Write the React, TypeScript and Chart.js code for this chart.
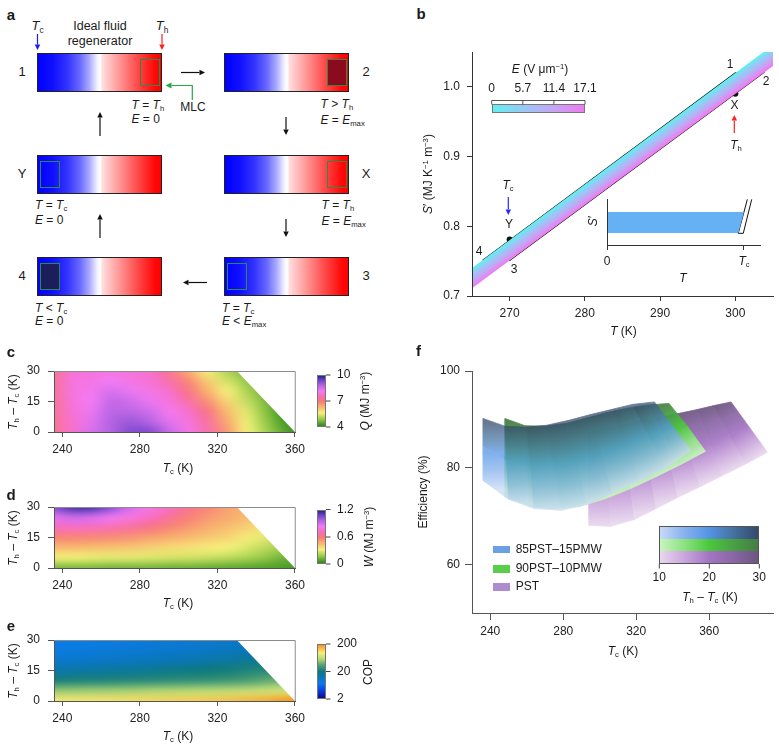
import React, { useEffect, useRef } from 'react';
import { Chart, registerables } from 'chart.js';

Chart.register(...registerables);

const FONT = "'Liberation Sans', Arial, Helvetica, sans-serif";
Chart.defaults.font.family = FONT;
Chart.defaults.color = '#222';

// ---------------- Panel b data ----------------
const B_T_TICKS = [270, 280, 290, 300];
const B_S_TICKS = [0.7, 0.8, 0.9, 1.0];
const BAND_T = [265, 305];
const BAND_TOP_S = [0.740, 1.060];
const BAND_BOTTOM_S = [0.711, 1.030];
const CYCLE_T = [266.4, 300.0, 303.7, 270.0, 266.4];
const CYCLE_S = [0.751, 1.020, 1.020, 0.751, 0.751];
const DASH_HOT_T = [300, 300];
const DASH_HOT_S = [0.990, 1.020];
const DASH_COLD_T = [270, 270];
const DASH_COLD_S = [0.751, 0.781];
const STATE_T = [300, 270];
const STATE_S = [0.990, 0.781];
const E_FIELD_TICKS = [0, 5.7, 11.4, 17.1];
const INSET_T_TICKS = [0, 1];
const INSET_BAR_T = [0, 0.966, 1.007, 0, 0];
const INSET_BAR_S = [0.26, 0.26, 0.717, 0.717, 0.26];
const INSET_SLAB_T = [1.032, 0.965, 1.002, 1.064];
const INSET_SLAB_S = [0.993, 0.254, 0.254, 0.993];

// ---------------- Panels c, d, e data ----------------
const HM_TC = [235, 245, 255, 265, 275, 285, 295, 305, 315, 325, 335, 345, 355, 365];
const HM_DT = [0, 5, 10, 15, 20, 25, 30];
const HM_TC_TICKS = [240, 280, 320, 360];
const HM_DT_TICKS = [0, 15, 30];
const TH_MAX = 360;
const Q_TICKS = [4, 7, 10];
const W_TICKS = [0, 0.6, 1.2];
const COP_TICKS = [2, 20, 200];
// rows: dT = 0,5,...,30 ; columns: Tc = 235..365
const Q_GRID = [
  [7.2, 7.7, 8.5, 8.9, 9.3, 9.3, 8.7, 8.0, 7.4, 6.6, 5.6, 4.95, 4.35, 4.0],
  [7.2, 7.75, 8.4, 8.9, 9.1, 8.9, 8.4, 7.9, 7.3, 6.4, 5.5, 4.8, 4.2, 4.0],
  [7.25, 7.8, 8.3, 8.8, 8.8, 8.6, 8.1, 7.7, 7.1, 6.2, 5.4, 4.7, 4.1, 4.0],
  [7.25, 7.85, 8.2, 8.7, 8.6, 8.3, 7.9, 7.4, 6.7, 5.9, 5.2, 4.6, 4.1, 4.0],
  [7.25, 7.9, 8.1, 8.5, 8.3, 8.0, 7.7, 7.1, 6.3, 5.6, 5.0, 4.5, 4.1, 4.0],
  [7.2, 7.9, 8.0, 8.2, 8.0, 7.8, 7.4, 6.8, 6.0, 5.3, 4.8, 4.4, 4.1, 4.0],
  [7.2, 7.8, 7.9, 8.0, 7.9, 7.7, 7.2, 6.4, 5.6, 5.0, 4.6, 4.3, 4.1, 4.0],
];
const W_GRID = [
  [0.12, 0.12, 0.12, 0.11, 0.11, 0.11, 0.10, 0.10, 0.09, 0.08, 0.07, 0.06, 0.05, 0.04],
  [0.30, 0.30, 0.29, 0.28, 0.28, 0.27, 0.26, 0.25, 0.24, 0.22, 0.19, 0.15, 0.10, 0.08],
  [0.44, 0.44, 0.43, 0.42, 0.41, 0.39, 0.37, 0.35, 0.33, 0.31, 0.27, 0.22, 0.17, 0.12],
  [0.57, 0.57, 0.56, 0.55, 0.53, 0.50, 0.47, 0.44, 0.41, 0.38, 0.33, 0.28, 0.22, 0.16],
  [0.70, 0.72, 0.71, 0.69, 0.66, 0.62, 0.57, 0.52, 0.47, 0.43, 0.39, 0.34, 0.28, 0.22],
  [0.88, 0.93, 0.91, 0.86, 0.79, 0.72, 0.65, 0.58, 0.52, 0.48, 0.44, 0.40, 0.34, 0.28],
  [1.05, 1.15, 1.15, 1.05, 0.90, 0.80, 0.72, 0.64, 0.57, 0.50, 0.46, 0.42, 0.38, 0.32],
];
const COP_GRID = [
  [105, 108, 110, 113, 116, 120, 124, 128, 133, 140, 150, 165, 190, 200],
  [50, 51, 52, 53, 54, 56, 57, 59, 61, 63, 66, 70, 75, 80],
  [22, 23, 23.5, 24, 25, 26, 27, 28, 29, 31, 34, 38, 42, 46],
  [14, 14.5, 15, 15.5, 16, 17, 18, 19, 20, 21, 23, 25, 27, 29],
  [10, 10.3, 10.7, 11, 11.5, 12, 12.7, 13.4, 14.2, 15, 16.2, 17.5, 19, 20],
  [8.2, 8.4, 8.7, 9, 9.3, 9.7, 10.1, 10.6, 11.1, 11.7, 12.4, 13.2, 14, 15],
  [7.2, 7.4, 7.6, 7.8, 8.1, 8.4, 8.8, 9.2, 9.6, 10, 10.5, 11, 11.6, 12.2],
];

// ---------------- Panel f data ----------------
const F_TC_TICKS = [240, 280, 320, 360];
const F_EFF_TICKS = [60, 80, 100];
const F_DT_ROWS = [10, 20, 30];
const F_DT_TICKS = [10, 20, 30];
const BLUE_TC_10 = [236, 250, 264, 279, 293, 307, 322, 336, 350];
const BLUE_EFF_10 = [77.4, 73.5, 71.6, 71.2, 72.4, 74.9, 77.3, 80.0, 83.6];
const BLUE_TC_20 = [236, 249, 262, 275, 288, 301, 314, 327, 340];
const BLUE_EFF_20 = [84.5, 81.6, 80.6, 80.5, 81.3, 82.9, 84.8, 86.7, 88.6];
const BLUE_TC_30 = [236, 248, 260, 271, 283, 295, 307, 318, 330];
const BLUE_EFF_30 = [90.2, 88.6, 88.4, 88.8, 89.8, 91.0, 92.1, 93.1, 93.6];
const GREEN_TC_10 = [248, 262, 275, 289, 303, 317, 330, 344, 358];
const GREEN_EFF_10 = [74.0, 72.0, 71.5, 72.0, 73.6, 75.7, 78.0, 80.6, 83.4];
const GREEN_TC_20 = [248, 260, 273, 285, 298, 310, 323, 335, 348];
const GREEN_EFF_20 = [82.6, 80.8, 80.5, 81.0, 82.3, 83.8, 85.5, 87.1, 88.6];
const GREEN_TC_30 = [248, 259, 270, 282, 293, 304, 315, 327, 338];
const GREEN_EFF_30 = [90.2, 88.7, 88.6, 89.2, 90.3, 91.4, 92.3, 93.0, 93.3];
const PURPLE_TC_10 = [294, 306, 319, 331, 343, 355, 368, 380, 392];
const PURPLE_EFF_10 = [68.1, 67.9, 69.3, 71.6, 73.9, 76.1, 78.5, 80.8, 83.2];
const PURPLE_TC_20 = [294, 305, 316, 327, 338, 349, 360, 371, 382];
const PURPLE_EFF_20 = [78.0, 78.2, 79.2, 80.6, 82.1, 83.6, 85.2, 86.8, 88.4];
const PURPLE_TC_30 = [294, 304, 314, 323, 333, 343, 353, 362, 372];
const PURPLE_EFF_30 = [87.4, 88.2, 89.0, 89.7, 90.4, 91.2, 92.0, 92.8, 93.6];
const F_NAMES = ['85PST–15PMW', '90PST–10PMW', 'PST'];

// ---------------- Styles ----------------
// shade at dT = 10, 15, 20, 25, 30
const BLUE_SHADES = ['#c8daf6', '#86b2ee', '#5494e4', '#44729e', '#34496c'];
const GREEN_SHADES = ['#c8f4c0', '#8ce280', '#4cc83c', '#48a044', '#467c44'];
const PURPLE_SHADES = ['#e8d8ee', '#caa6dc', '#a474c4', '#8a66a6', '#6c5480'];
const LEGEND_COLORS = ['#6b9fe6', '#5acd4c', '#ad8ccf'];
const HEAT_STOPS = [0, 0.14, 0.26, 0.38, 0.5, 0.6, 0.7, 0.82, 0.92, 1];
const HEAT_COLORS = ['#2a8a18', '#9ccc4c', '#f4f07a', '#f8b46e', '#f8787a', '#f86ec4', '#f27af4', '#b262e2', '#6c40c8', '#26268a'];
const COP_STOPS = [0, 0.14, 0.28, 0.4, 0.5, 0.62, 0.73, 0.85, 1];
const COP_COLORS = ['#0c0c82', '#0a3ce6', '#0a7cea', '#0a76b8', '#0f7a7c', '#4fa074', '#b4d672', '#f4f07c', '#f8921a'];
const E_STOPS = [0, 0.35, 0.68, 1];
const E_COLORS = ['#5ff0f0', '#9cc6f6', '#c6a4f4', '#f07af0'];
const REGEN_GRADIENT =
  'linear-gradient(to right, #0000ff 0%, #1010ff 12%, #3434ff 24%, #6868ff 34%, #acacff 42%, #f0f0ff 48%, #ffffff 50.5%, #ffdcdc 52.5%, #ffb0b0 61%, #ff7878 72%, #ff4040 83%, #ff0808 95%, #ff0000 100%)';

type RGB = [number, number, number];
const hexRgb = (h: string): RGB => [parseInt(h.slice(1, 3), 16), parseInt(h.slice(3, 5), 16), parseInt(h.slice(5, 7), 16)];
function makeCmap(stops: number[], colors: string[]) {
  const rgb = colors.map(hexRgb);
  return (t: number): RGB => {
    const u = Math.min(1, Math.max(0, t));
    let i = 0;
    while (i < stops.length - 2 && u > stops[i + 1]) i++;
    const f = (u - stops[i]) / (stops[i + 1] - stops[i]);
    return [0, 1, 2].map((k) => Math.round(rgb[i][k] + (rgb[i + 1][k] - rgb[i][k]) * f)) as RGB;
  };
}
const cssGrad = (dir: string, stops: number[], colors: string[]) =>
  `linear-gradient(${dir}, ${colors.map((c, i) => `${c} ${(stops[i] * 100).toFixed(1)}%`).join(', ')})`;
const heatCmap = makeCmap(HEAT_STOPS, HEAT_COLORS);
const copCmap = makeCmap(COP_STOPS, COP_COLORS);
const normQ = (v: number) => (v - Q_TICKS[0]) / (Q_TICKS[2] - Q_TICKS[0]);
const normW = (v: number) => (v - W_TICKS[0]) / (W_TICKS[2] - W_TICKS[0]);
const normCOP = (v: number) => Math.log10(v / COP_TICKS[0]) / Math.log10(COP_TICKS[2] / COP_TICKS[0]);

const pts = (xs: number[], ys: number[]) => xs.map((x, i) => ({ x, y: ys[i] }));

function linAxis(min: number, max: number, vals: number[], o: any = {}) {
  return {
    type: 'linear',
    min,
    max,
    afterBuildTicks: (s: any) => {
      s.ticks = vals.map((v) => ({ value: v }));
    },
    afterFit: (s: any) => {
      if (o.horizontal) s.height = o.size;
      else s.width = o.size;
    },
    ticks: {
      display: o.labels !== false,
      color: '#222',
      font: { family: FONT, size: 12 },
      padding: o.pad ?? 4,
      maxRotation: 0,
      autoSkip: false,
      callback: o.fmt ?? ((v: number) => String(v)),
    },
    grid: { display: true, drawOnChartArea: false, drawTicks: true, tickLength: o.tickLen ?? 5, color: o.color ?? '#333', lineWidth: 1 },
    border: { display: true, color: o.color ?? '#333', width: 1, z: 1 },
  };
}

const baseOptions = (padding: any, scales: any) => ({
  responsive: false,
  animation: false,
  events: [],
  layout: { padding },
  plugins: { legend: { display: false }, tooltip: { enabled: false } },
  scales,
});

// ---------------- Plugins ----------------
function heatmapPlugin(grid: number[][], norm: (v: number) => number, cmap: (t: number) => RGB) {
  return {
    id: 'heatmap',
    beforeDatasetsDraw(chart: any) {
      const { ctx, scales } = chart;
      const x = scales.x, y = scales.y;
      const nC = HM_TC.length, nR = HM_DT.length;
      const off = document.createElement('canvas');
      off.width = nC;
      off.height = nR;
      const o = off.getContext('2d')!;
      const img = o.createImageData(nC, nR);
      for (let r = 0; r < nR; r++)
        for (let c = 0; c < nC; c++) {
          const [R, G, B] = cmap(norm(grid[r][c]));
          const i = ((nR - 1 - r) * nC + c) * 4;
          img.data[i] = R;
          img.data[i + 1] = G;
          img.data[i + 2] = B;
          img.data[i + 3] = 255;
        }
      o.putImageData(img, 0, 0);
      const dx = HM_TC[1] - HM_TC[0], dy = HM_DT[1] - HM_DT[0];
      const x0 = x.getPixelForValue(HM_TC[0] - dx / 2), x1 = x.getPixelForValue(HM_TC[nC - 1] + dx / 2);
      const y0 = y.getPixelForValue(HM_DT[nR - 1] + dy / 2), y1 = y.getPixelForValue(HM_DT[0] - dy / 2);
      const dtMax = HM_DT[nR - 1];
      ctx.save();
      ctx.beginPath();
      ctx.moveTo(x.left, y.getPixelForValue(0));
      ctx.lineTo(x.left, y.getPixelForValue(dtMax));
      ctx.lineTo(x.getPixelForValue(TH_MAX - dtMax), y.getPixelForValue(dtMax));
      ctx.lineTo(x.getPixelForValue(TH_MAX), y.getPixelForValue(0));
      ctx.closePath();
      ctx.clip();
      ctx.imageSmoothingEnabled = true;
      (ctx as any).imageSmoothingQuality = 'high';
      ctx.drawImage(off, x0, y0, x1 - x0, y1 - y0);
      ctx.restore();
    },
  };
}

const boxPlugin = {
  id: 'box',
  afterDraw(chart: any) {
    const { ctx, chartArea: a } = chart;
    ctx.save();
    ctx.strokeStyle = '#8c8c8c';
    ctx.lineWidth = 1;
    ctx.beginPath();
    ctx.moveTo(a.left, a.top + 0.5);
    ctx.lineTo(a.right - 0.5, a.top + 0.5);
    ctx.lineTo(a.right - 0.5, a.bottom);
    ctx.stroke();
    ctx.restore();
  },
};

const MATERIALS = [
  { tc: [PURPLE_TC_10, PURPLE_TC_20, PURPLE_TC_30], eff: [PURPLE_EFF_10, PURPLE_EFF_20, PURPLE_EFF_30], shades: PURPLE_SHADES, alpha: 0.92 },
  { tc: [GREEN_TC_10, GREEN_TC_20, GREEN_TC_30], eff: [GREEN_EFF_10, GREEN_EFF_20, GREEN_EFF_30], shades: GREEN_SHADES, alpha: 0.93 },
  { tc: [BLUE_TC_10, BLUE_TC_20, BLUE_TC_30], eff: [BLUE_EFF_10, BLUE_EFF_20, BLUE_EFF_30], shades: BLUE_SHADES, alpha: 0.74 },
];

const surfacePlugin = {
  id: 'surfaces',
  beforeDatasetsDraw(chart: any) {
    const { ctx, scales } = chart;
    const x = scales.x, y = scales.y;
    const dpr = chart.currentDevicePixelRatio || 1;
    for (const m of MATERIALS) {
      const off = document.createElement('canvas');
      off.width = chart.canvas.width;
      off.height = chart.canvas.height;
      const o = off.getContext('2d')!;
      o.setTransform(dpr, 0, 0, dpr, 0, 0);
      const P = (r: number, k: number) => [x.getPixelForValue(m.tc[r][k]), y.getPixelForValue(m.eff[r][k])];
      for (let r = 0; r < F_DT_ROWS.length - 1; r++) {
        for (let k = 0; k < m.tc[r].length - 1; k++) {
          const a = P(r, k), b = P(r, k + 1), c = P(r + 1, k + 1), d = P(r + 1, k);
          const g = o.createLinearGradient((a[0] + b[0]) / 2, (a[1] + b[1]) / 2, (c[0] + d[0]) / 2, (c[1] + d[1]) / 2);
          g.addColorStop(0, m.shades[2 * r]);
          g.addColorStop(0.5, m.shades[2 * r + 1]);
          g.addColorStop(1, m.shades[2 * r + 2]);
          o.fillStyle = g;
          o.strokeStyle = g;
          o.lineWidth = 0.8;
          o.beginPath();
          o.moveTo(a[0], a[1]);
          o.lineTo(b[0], b[1]);
          o.lineTo(c[0], c[1]);
          o.lineTo(d[0], d[1]);
          o.closePath();
          o.fill();
          o.stroke();
        }
      }
      ctx.save();
      ctx.setTransform(1, 0, 0, 1, 0, 0);
      ctx.globalAlpha = m.alpha;
      ctx.drawImage(off, 0, 0);
      ctx.restore();
    }
  },
};

function bandFill(context: any) {
  const chart = context.chart;
  const x = chart.scales?.x, y = chart.scales?.y;
  if (!chart.chartArea || !x || !y) return '#a8c4f4';
  const p0 = [x.getPixelForValue(BAND_T[0]), y.getPixelForValue(BAND_TOP_S[0])];
  const p1 = [x.getPixelForValue(BAND_T[1]), y.getPixelForValue(BAND_TOP_S[1])];
  const q0 = [x.getPixelForValue(BAND_T[0]), y.getPixelForValue(BAND_BOTTOM_S[0])];
  let nx = -(p1[1] - p0[1]), ny = p1[0] - p0[0];
  const L = Math.hypot(nx, ny);
  nx /= L;
  ny /= L;
  const d = (q0[0] - p0[0]) * nx + (q0[1] - p0[1]) * ny;
  const g = chart.ctx.createLinearGradient(p0[0], p0[1], p0[0] + nx * d, p0[1] + ny * d);
  E_STOPS.forEach((s, i) => g.addColorStop(s, E_COLORS[i]));
  return g;
}

// ---------------- Chart configs ----------------
const bConfig = () => ({
  type: 'line',
  data: {
    datasets: [
      { data: pts(BAND_T, BAND_TOP_S), borderWidth: 0, borderColor: 'rgba(0,0,0,0)', pointRadius: 0, fill: false },
      { data: pts(BAND_T, BAND_BOTTOM_S), borderWidth: 0, borderColor: 'rgba(0,0,0,0)', pointRadius: 0, fill: '-1', backgroundColor: bandFill },
      { data: pts(CYCLE_T, CYCLE_S), borderColor: '#111', borderWidth: 1.3, pointRadius: 0, fill: false },
      { data: pts(DASH_HOT_T, DASH_HOT_S), borderColor: '#222', borderWidth: 1.2, borderDash: [3, 2], pointRadius: 0, fill: false },
      { data: pts(DASH_COLD_T, DASH_COLD_S), borderColor: '#222', borderWidth: 1.2, borderDash: [3, 2], pointRadius: 0, fill: false },
      { data: pts(STATE_T, STATE_S), showLine: false, pointRadius: 3, pointBackgroundColor: '#111', pointBorderWidth: 0 },
    ],
  },
  options: baseOptions(
    { left: 0, top: 22, right: 6, bottom: 0 },
    {
      x: linAxis(265, 305, B_T_TICKS, { horizontal: true, size: 44, pad: 5 }),
      y: linAxis(0.7, 1.05, B_S_TICKS, { size: 72, pad: 7, fmt: (v: number) => v.toFixed(1) }),
    }
  ),
});

const insetConfig = () => ({
  type: 'scatter',
  data: {
    datasets: [
      { data: pts(INSET_BAR_T, INSET_BAR_S), showLine: true, borderWidth: 0, borderColor: 'rgba(0,0,0,0)', backgroundColor: '#66b0f4', fill: 'shape', pointRadius: 0 },
      { data: pts(INSET_SLAB_T, INSET_SLAB_S), showLine: true, borderWidth: 1, borderColor: '#111', fill: false, pointRadius: 0 },
    ],
  },
  options: baseOptions(
    { left: 0, top: 14, right: 15, bottom: 0 },
    {
      x: linAxis(0, 1.125, INSET_T_TICKS, { horizontal: true, size: 25, pad: 4, fmt: (v: number) => (v === 0 ? '0' : '') }),
      y: linAxis(0, 1, [], { size: 17, labels: false }),
    }
  ),
});

const heatConfig = (grid: number[][], norm: (v: number) => number, cmap: (t: number) => RGB) => ({
  type: 'scatter',
  data: { datasets: [] },
  options: baseOptions(
    { left: 0, top: 16, right: 8, bottom: 0 },
    {
      x: linAxis(235.7, 360.4, HM_TC_TICKS, { horizontal: true, size: 30, pad: 5, tickLen: 5, color: '#555' }),
      y: linAxis(0, 30, HM_DT_TICKS, { size: 54, pad: 8, tickLen: 6, color: '#555' }),
    }
  ),
  plugins: [heatmapPlugin(grid, norm, cmap), boxPlugin],
});

const fConfig = () => ({
  type: 'scatter',
  data: { datasets: [] },
  options: baseOptions(
    { left: 0, top: 16, right: 6, bottom: 0 },
    {
      x: linAxis(230, 395, F_TC_TICKS, { horizontal: true, size: 57, pad: 4, tickLen: 7, color: '#555' }),
      y: linAxis(50, 100, F_EFF_TICKS, { size: 72, pad: 5, tickLen: 7, color: '#555' }),
    }
  ),
  plugins: [surfacePlugin],
});

// ---------------- Components ----------------
function ChartCanvas({ left, top, width, height, make }: any) {
  const ref = useRef<HTMLCanvasElement>(null);
  useEffect(() => {
    const chart = new Chart(ref.current as any, make());
    return () => chart.destroy();
  }, []);
  return <canvas ref={ref} width={width} height={height} style={{ position: 'absolute', left, top, width, height }} />;
}

const Sub = ({ children }: any) => <span style={{ fontSize: '0.64em', position: 'relative', top: '0.32em' }}>{children}</span>;
const Sup = ({ children }: any) => <span style={{ fontSize: '0.64em', position: 'relative', top: '-0.5em' }}>{children}</span>;
const Ts = ({ s }: any) => (
  <>
    <i>T</i>
    <Sub>{s}</Sub>
  </>
);

function Lbl({ x, y, a = 'c', rot = false, size = 12, bold = false, children }: any) {
  const tx = a === 'l' ? '0' : a === 'r' ? '-100%' : '-50%';
  return (
    <div
      style={{
        position: 'absolute',
        left: x,
        top: y,
        transform: `translate(${tx}, -50%)${rot ? ' rotate(-90deg)' : ''}`,
        fontSize: size,
        fontWeight: bold ? 700 : 400,
        lineHeight: 1.15,
        whiteSpace: 'nowrap',
        color: '#1a1a1a',
      }}
    >
      {children}
    </div>
  );
}

function Arrow({ x1, y1, x2, y2, color = '#111', w = 1.2, head = 5.5 }: any) {
  const dx = x2 - x1, dy = y2 - y1, L = Math.hypot(dx, dy);
  const ux = dx / L, uy = dy / L;
  const bx = x2 - ux * head, by = y2 - uy * head;
  const px = -uy * head * 0.5, py = ux * head * 0.5;
  return (
    <g>
      <line x1={x1} y1={y1} x2={bx} y2={by} stroke={color} strokeWidth={w} />
      <polygon points={`${x2},${y2} ${bx + px},${by + py} ${bx - px},${by - py}`} fill={color} />
    </g>
  );
}

function Regen({ x, y, box, fill }: any) {
  return (
    <>
      <div style={{ position: 'absolute', left: x, top: y, width: 125, height: 39, background: REGEN_GRADIENT, border: '1px solid #222', boxSizing: 'border-box' }} />
      <div style={{ position: 'absolute', left: box, top: y + 6, width: 20, height: 27, background: fill || 'transparent', border: '1.5px solid #2a8a46', boxSizing: 'border-box' }} />
    </>
  );
}

function VBar({ left, top, width, height, grad }: any) {
  return <div style={{ position: 'absolute', left, top, width, height, background: grad, border: '1px solid #777', boxSizing: 'border-box' }} />;
}

function PanelA() {
  return (
    <>
      <Lbl x={11} y={15} size={15} bold>a</Lbl>
      <Lbl x={37.5} y={26} size={13}><Ts s="c" /></Lbl>
      <Lbl x={162} y={26} size={13}><Ts s="h" /></Lbl>
      <Lbl x={100} y={26} size={12.5}>Ideal fluid</Lbl>
      <Lbl x={100} y={41} size={12.5}>regenerator</Lbl>
      <Regen x={37} y={53} box={140} />
      <Regen x={224} y={53} box={327} fill="#8a0a1e" />
      <Regen x={37} y={155} box={40} />
      <Regen x={224} y={155} box={327} />
      <Regen x={37} y={257} box={40} fill="#1b1e5a" />
      <Regen x={224} y={257} box={227} />
      <Lbl x={22} y={72} size={13}>1</Lbl>
      <Lbl x={366} y={72} size={13}>2</Lbl>
      <Lbl x={22} y={174} size={13}>Y</Lbl>
      <Lbl x={366} y={174} size={13}>X</Lbl>
      <Lbl x={22} y={276} size={13}>4</Lbl>
      <Lbl x={366} y={276} size={13}>3</Lbl>
      <Lbl x={131.5} y={106} a="l"><i>T</i> = <Ts s="h" /></Lbl>
      <Lbl x={131.5} y={120} a="l"><i>E</i> = 0</Lbl>
      <Lbl x={193} y={108}>MLC</Lbl>
      <Lbl x={320.5} y={105} a="l"><i>T</i> &gt; <Ts s="h" /></Lbl>
      <Lbl x={320.5} y={121} a="l"><i>E</i> = <i>E</i><Sub>max</Sub></Lbl>
      <Lbl x={35} y={206} a="l"><i>T</i> = <Ts s="c" /></Lbl>
      <Lbl x={35} y={221} a="l"><i>E</i> = 0</Lbl>
      <Lbl x={321.5} y={206} a="l"><i>T</i> = <Ts s="h" /></Lbl>
      <Lbl x={321.5} y={222} a="l"><i>E</i> = <i>E</i><Sub>max</Sub></Lbl>
      <Lbl x={35} y={309} a="l"><i>T</i> &lt; <Ts s="c" /></Lbl>
      <Lbl x={35} y={322} a="l"><i>E</i> = 0</Lbl>
      <Lbl x={222} y={309} a="l"><i>T</i> = <Ts s="c" /></Lbl>
      <Lbl x={222} y={322} a="l"><i>E</i> &lt; <i>E</i><Sub>max</Sub></Lbl>
    </>
  );
}

function PanelBText() {
  const eX = (v: number) => 491.7 + (v / E_FIELD_TICKS[3]) * 93.3;
  return (
    <>
      <Lbl x={421} y={14} size={15} bold>b</Lbl>
      <Lbl x={428.5} y={173.5} rot><i>S</i>′ (MJ K<Sup>−1</Sup> m<Sup>−3</Sup>)</Lbl>
      <Lbl x={623.5} y={332}><i>T</i> (K)</Lbl>
      <Lbl x={540} y={70}><i>E</i> (V μm<Sup>−1</Sup>)</Lbl>
      {E_FIELD_TICKS.map((v) => (
        <Lbl key={v} x={eX(v)} y={89}>{String(v)}</Lbl>
      ))}
      <VBar left={491.7} top={104.3} width={93.3} height={9} grad={cssGrad('to right', E_STOPS, E_COLORS)} />
      <Lbl x={730} y={65}>1</Lbl>
      <Lbl x={766} y={81.5}>2</Lbl>
      <Lbl x={734.5} y={106}>X</Lbl>
      <Lbl x={736} y={146}><Ts s="h" /></Lbl>
      <Lbl x={508} y={186}><Ts s="c" /></Lbl>
      <Lbl x={509} y={225}>Y</Lbl>
      <Lbl x={479} y={252}>4</Lbl>
      <Lbl x={514} y={269.5}>3</Lbl>
      <Lbl x={594} y={221} rot><i>S</i>′</Lbl>
      <Lbl x={744} y={262}><Ts s="c" /></Lbl>
      <Lbl x={683} y={279}><i>T</i></Lbl>
    </>
  );
}

function HeatText({ letterY, plotTop, plotBottom, titleY, cbTop, cbBottom, ticks, tickFmt, norm, title, grad }: any) {
  const mid = (plotTop + plotBottom) / 2;
  return (
    <>
      <Lbl x={11} y={letterY} size={15} bold>{title.letter}</Lbl>
      <Lbl x={14} y={mid} rot><Ts s="h" /> – <Ts s="c" /> (K)</Lbl>
      <Lbl x={178} y={titleY}><Ts s="c" /> (K)</Lbl>
      <VBar left={316.5} top={cbTop} width={9.5} height={cbBottom - cbTop} grad={grad} />
      {ticks.map((v: number) => (
        <Lbl key={v} x={337} y={cbBottom - norm(v) * (cbBottom - cbTop)} a="l">{tickFmt(v)}</Lbl>
      ))}
      <Lbl x={title.x} y={(cbTop + cbBottom) / 2} rot>{title.node}</Lbl>
    </>
  );
}

function PanelFText() {
  const cbX = (v: number) => 659.3 + ((v - F_DT_TICKS[0]) / (F_DT_TICKS[2] - F_DT_TICKS[0])) * 100;
  const shadeSets = [BLUE_SHADES, GREEN_SHADES, PURPLE_SHADES];
  const legendY = [549.7, 569, 587];
  return (
    <>
      <Lbl x={418.5} y={351} size={15} bold>f</Lbl>
      <Lbl x={424} y={491.5} rot>Efficiency (%)</Lbl>
      <Lbl x={623} y={651.5}><Ts s="c" /> (K)</Lbl>
      {F_NAMES.map((n, i) => (
        <React.Fragment key={n}>
          <div style={{ position: 'absolute', left: 493.3, top: legendY[i] - 3.7, width: 16.7, height: 7.4, background: LEGEND_COLORS[i] }} />
          <Lbl x={515.7} y={legendY[i]} a="l">{n}</Lbl>
        </React.Fragment>
      ))}
      <div style={{ position: 'absolute', left: 659.3, top: 526.3, width: 100, height: 37.7, border: '1px solid #555', boxSizing: 'border-box', overflow: 'hidden' }}>
        {shadeSets.map((s, i) => (
          <div key={i} style={{ height: '33.34%', background: `linear-gradient(to right, ${s.join(', ')})` }} />
        ))}
      </div>
      {F_DT_TICKS.map((v) => (
        <Lbl key={v} x={cbX(v)} y={578}>{String(v)}</Lbl>
      ))}
      <Lbl x={710} y={598}><Ts s="h" /> – <Ts s="c" /> (K)</Lbl>
    </>
  );
}

function Overlay() {
  const eX = (v: number) => 491.7 + (v / E_FIELD_TICKS[3]) * 93.3;
  const fX = (v: number) => 659.3 + ((v - F_DT_TICKS[0]) / (F_DT_TICKS[2] - F_DT_TICKS[0])) * 100;
  const cbTicks = [
    [375, 401, 427],
    [509.5, 537, 564],
    [644, 671.5, 699],
  ];
  return (
    <svg width={779} height={749} style={{ position: 'absolute', left: 0, top: 0, pointerEvents: 'none' }}>
      {/* panel a */}
      <Arrow x1={37.5} y1={34} x2={37.5} y2={50} color="#1a1aff" />
      <Arrow x1={162} y1={34} x2={162} y2={50} color="#ff2020" />
      <polyline points="192.3,100 192.3,85.5 172,85.5" fill="none" stroke="#22aa44" strokeWidth={1.2} />
      <Arrow x1={173} y1={85.5} x2={165.5} y2={85.5} color="#22aa44" head={6} />
      <Arrow x1={181} y1={72.5} x2={205} y2={72.5} />
      <Arrow x1={286} y1={117} x2={286} y2={135} />
      <Arrow x1={286} y1={219} x2={286} y2={237} />
      <Arrow x1={207} y1={282.5} x2={183} y2={282.5} />
      <Arrow x1={100} y1={238} x2={100} y2={214} />
      <Arrow x1={100} y1={136} x2={100} y2={112} />
      {/* panel b */}
      <Arrow x1={734.3} y1={133} x2={734.3} y2={115} color="#ff2020" />
      <Arrow x1={508.3} y1={197} x2={508.3} y2={215} color="#2a2aff" />
      <line x1={491.7} y1={100.5} x2={585} y2={100.5} stroke="#555" strokeWidth={1} />
      {E_FIELD_TICKS.map((v) => (
        <line key={v} x1={eX(v)} y1={100.5} x2={eX(v)} y2={104.5} stroke="#555" strokeWidth={1} />
      ))}
      {/* colorbar ticks c, d, e */}
      {cbTicks.map((arr, j) =>
        arr.map((yy) => <line key={j + '-' + yy} x1={326} y1={yy} x2={330.5} y2={yy} stroke="#444" strokeWidth={1} />)
      )}
      {/* panel f colorbar ticks */}
      {F_DT_TICKS.map((v) => (
        <line key={v} x1={fX(v)} y1={564} x2={fX(v)} y2={568.5} stroke="#444" strokeWidth={1} />
      ))}
    </svg>
  );
}

export default function App() {
  return (
    <div style={{ position: 'absolute', left: 0, top: 0, width: 779, height: 749, background: '#fff', fontFamily: FONT, color: '#1a1a1a', overflow: 'hidden' }}>
      <PanelA />
      <ChartCanvas left={400} top={30} width={379} height={310} make={bConfig} />
      <ChartCanvas left={590} top={185} width={185} height={85} make={insetConfig} />
      <PanelBText />
      <ChartCanvas left={0} top={355} width={310} height={107} make={() => heatConfig(Q_GRID, normQ, heatCmap)} />
      <ChartCanvas left={0} top={491} width={310} height={107} make={() => heatConfig(W_GRID, normW, heatCmap)} />
      <ChartCanvas left={0} top={624} width={310} height={107} make={() => heatConfig(COP_GRID, normCOP, copCmap)} />
      <HeatText
        letterY={351.5}
        plotTop={371}
        plotBottom={432}
        titleY={469}
        cbTop={375}
        cbBottom={427}
        ticks={Q_TICKS}
        tickFmt={(v: number) => String(v)}
        norm={normQ}
        grad={cssGrad('to top', HEAT_STOPS, HEAT_COLORS)}
        title={{ letter: 'c', x: 366, node: <><i>Q</i> (MJ m<Sup>−3</Sup>)</> }}
      />
      <HeatText
        letterY={495}
        plotTop={507}
        plotBottom={568}
        titleY={604}
        cbTop={509.5}
        cbBottom={564}
        ticks={W_TICKS}
        tickFmt={(v: number) => String(v)}
        norm={normW}
        grad={cssGrad('to top', HEAT_STOPS, HEAT_COLORS)}
        title={{ letter: 'd', x: 370, node: <><i>W</i> (MJ m<Sup>−3</Sup>)</> }}
      />
      <HeatText
        letterY={626}
        plotTop={640}
        plotBottom={701}
        titleY={737}
        cbTop={644}
        cbBottom={699}
        ticks={COP_TICKS}
        tickFmt={(v: number) => String(v)}
        norm={normCOP}
        grad={cssGrad('to top', COP_STOPS, COP_COLORS)}
        title={{ letter: 'e', x: 369, node: <>COP</> }}
      />
      <ChartCanvas left={400} top={355} width={379} height={315} make={fConfig} />
      <PanelFText />
      <Overlay />
    </div>
  );
}
